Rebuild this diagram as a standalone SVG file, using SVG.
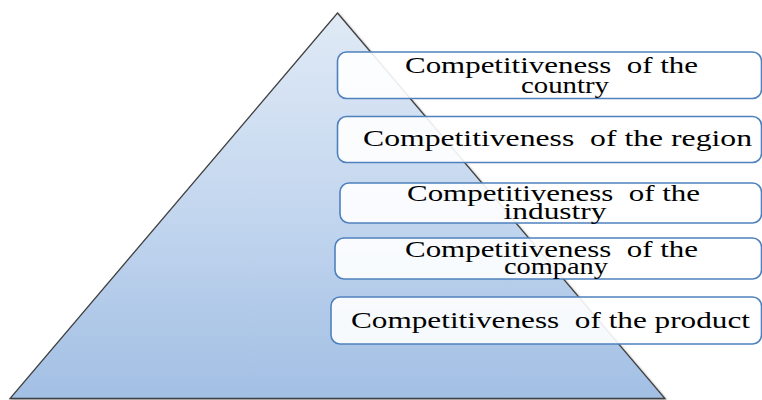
<svg xmlns="http://www.w3.org/2000/svg" width="762" height="400" viewBox="0 0 762 400">
<defs>
<linearGradient id="tri" x1="0" y1="0" x2="0" y2="1">
<stop offset="0" stop-color="#E0EAF6"/>
<stop offset="0.5" stop-color="#C4D7EF"/>
<stop offset="1" stop-color="#A2BFE4"/>
</linearGradient>
<filter id="sh" x="-5%" y="-5%" width="110%" height="110%">
<feGaussianBlur in="SourceAlpha" stdDeviation="1.2"/>
<feOffset dx="1" dy="1"/>
<feComponentTransfer><feFuncA type="linear" slope="0.35"/></feComponentTransfer>
<feMerge><feMergeNode/><feMergeNode in="SourceGraphic"/></feMerge>
</filter>
</defs>
<style>
.box{fill:#FFFFFF;fill-opacity:0.9;stroke:#4F81BD;stroke-width:1.6}
.t{font-family:"Liberation Serif","Times New Roman",serif;font-size:22.5px;fill:#000000;white-space:pre}
.c{text-anchor:middle}
</style>
<g id="pyramid">
<path d="M337.5,13 L665,398.5 L10,398.5 Z" fill="url(#tri)" stroke="#404040" stroke-width="1.3" stroke-linejoin="miter" filter="url(#sh)"/>
</g>
<g id="node-country">
<rect class="box" x="337.5" y="52" width="424" height="46.5" rx="9"/>
<text class="t" xml:space="preserve" x="405" y="73" textLength="293" lengthAdjust="spacingAndGlyphs">Competitiveness  of the</text>
<text class="t c" x="565" y="92.5" textLength="88" lengthAdjust="spacingAndGlyphs">country</text>
</g>
<g id="node-region">
<rect class="box" x="337.5" y="116.5" width="424" height="46" rx="9"/>
<text class="t" xml:space="preserve" x="363" y="146" textLength="389" lengthAdjust="spacingAndGlyphs">Competitiveness  of the region</text>
</g>
<g id="node-industry">
<rect class="box" x="340" y="183" width="421.5" height="40" rx="9"/>
<text class="t" xml:space="preserve" x="407" y="201" textLength="293" lengthAdjust="spacingAndGlyphs">Competitiveness  of the</text>
<text class="t c" x="555" y="219" textLength="103" lengthAdjust="spacingAndGlyphs">industry</text>
</g>
<g id="node-company">
<rect class="box" x="335" y="238" width="426.5" height="41" rx="9"/>
<text class="t" xml:space="preserve" x="405" y="256.5" textLength="293" lengthAdjust="spacingAndGlyphs">Competitiveness  of the</text>
<text class="t c" x="556" y="274" textLength="104" lengthAdjust="spacingAndGlyphs">company</text>
</g>
<g id="node-product">
<rect class="box" x="331" y="297" width="430.5" height="47" rx="9"/>
<text class="t" xml:space="preserve" x="351" y="328" textLength="399" lengthAdjust="spacingAndGlyphs">Competitiveness  of the product</text>
</g>
<g id="connectors"/>
</svg>
